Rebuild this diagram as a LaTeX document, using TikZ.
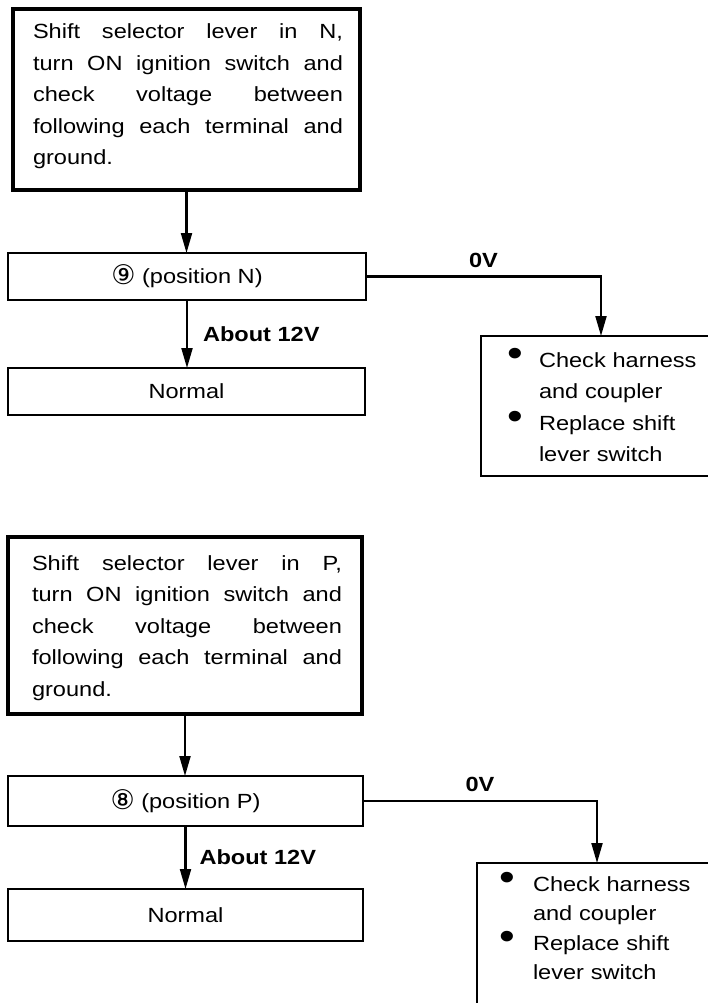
\documentclass[tikz,border=0pt]{standalone}
\usepackage{fontspec}
\setmainfont{Liberation Sans}[FakeStretch=1.15]
\newfontfamily\symfont{DejaVu Sans}
\usetikzlibrary{arrows.meta}
\newcommand{\bul}{\raisebox{1pt}{\scalebox{1.9}{\textbullet}}}
\newcommand{\jl}[1]{\makebox[310pt][l]{#1}}
\newcommand{\circd}[1]{\raisebox{-1pt}{{\symfont\fontsize{27}{27}\selectfont #1}}}
\begin{document}
\begin{tikzpicture}[x=1pt,y=-1pt,
  every node/.style={font=\fontsize{20.5}{31.5}\selectfont, inner sep=0pt, outer sep=0pt},
  box/.style={draw, line width=2.3pt, anchor=north west},
  bigbox/.style={draw, line width=3.1pt, anchor=north west},
  conn/.style={line width=2.1pt, -{Triangle[length=20pt,width=11pt]}},
  lbl/.style={font=\fontsize{20.5}{24}\selectfont\bfseries},
  para/.style={anchor=base west, text width=310pt, align=left},
  bullets/.style={anchor=base west, text width=200pt, align=left},
]
\useasboundingbox (0,0) rectangle (708,1003);

% ---------- upper chart ----------
\node[bigbox, minimum width=347pt, minimum height=181pt] (b1) at (13,9) {};
\node[para] (t1) at (33,39) {\jl{Shift\hfill selector\hfill lever\hfill in\hfill N,}\\
\jl{turn\hfill ON\hfill ignition\hfill switch\hfill and}\\
\jl{check\hfill voltage\hfill between}\\
\jl{following\hfill each\hfill terminal\hfill and}\\
ground.};

\node[box, minimum width=358pt, minimum height=47pt] (b2) at (8,253) {\circd{⑨} (position N)};
\node[box, minimum width=357pt, minimum height=47pt] (n1) at (8,368) {Normal};
\node[box, minimum width=240pt, minimum height=140pt] (b3) at (481,336) {};
\node[bullets, font=\fontsize{20.5}{31.5}\selectfont] (t3) at (507,367) {\makebox[32pt][l]{\bul}Check harness\\
\hspace*{32pt}and coupler\\
\makebox[32pt][l]{\bul}Replace shift\\
\hspace*{32pt}lever switch};

\draw[conn] (b1.south) -- (b1.south |- b2.north);
\draw[conn] (b2.south) -- (b2.south |- n1.north) node[lbl, midway, anchor=west, xshift=16pt] (v1) {About 12V};
\draw[conn] (b2.east) -| (b3.north) node[lbl, pos=0.25, anchor=south, yshift=9pt] (z1) {0V};

% ---------- lower chart ----------
\node[bigbox, minimum width=354pt, minimum height=177pt] (b4) at (8,537) {};
\node[para] (t4) at (32,570) {\jl{Shift\hfill selector\hfill lever\hfill in\hfill P,}\\
\jl{turn\hfill ON\hfill ignition\hfill switch\hfill and}\\
\jl{check\hfill voltage\hfill between}\\
\jl{following\hfill each\hfill terminal\hfill and}\\
ground.};

\node[box, minimum width=355pt, minimum height=50pt] (b5) at (8,776) {\circd{⑧} (position P)};
\node[box, minimum width=355pt, minimum height=52pt] (n2) at (8,889) {Normal};
\node[box, minimum width=240pt, minimum height=200pt] (b6) at (477,863) {};
\node[bullets, font=\fontsize{20.5}{29.5}\selectfont] (t6) at (499,891) {\makebox[34pt][l]{\bul}Check harness\\
\hspace*{34pt}and coupler\\
\makebox[34pt][l]{\bul}Replace shift\\
\hspace*{34pt}lever switch};

\draw[conn] (b4.south) -- (b4.south |- b5.north);
\draw[conn] (b5.south) -- (b5.south |- n2.north) node[lbl, midway, anchor=west, xshift=14pt] (v2) {About 12V};
\draw[conn] (b5.east) -| (b6.north) node[lbl, pos=0.25, anchor=south, yshift=9pt] (z2) {0V};
\end{tikzpicture}
\end{document}
